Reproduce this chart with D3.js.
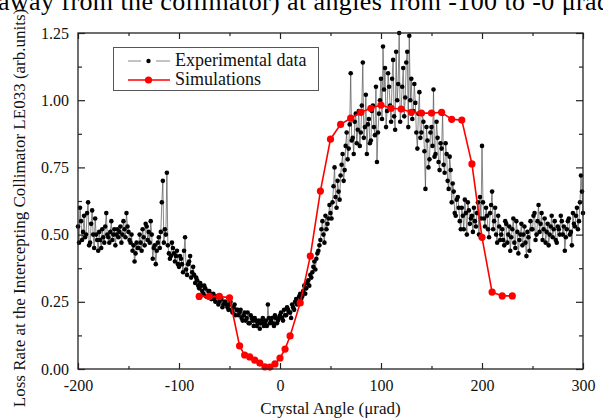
<!DOCTYPE html>
<html><head><meta charset="utf-8">
<script src="https://cdn.jsdelivr.net/npm/d3@7"></script>
<style>
html,body{margin:0;padding:0;background:#fff;overflow:hidden}
svg{display:block;font-family:"Liberation Serif","Times New Roman",serif}
svg text{font-family:"Liberation Serif","Times New Roman",serif}
</style></head><body>
<svg id="c" width="603" height="420"></svg>
<script>
// ---- data ----
const expAngle = [
-200,-198,-196,-194,-192,-190,-188,-186,-184,-182,
-180,-178,-176,-174,-172,-170,-168,-166,-164,-162,
-160,-158,-156,-154,-152,-150,-148,-146,-144,-142,
-140,-138,-136,-134,-132,-130,-128,-126,-124,-122,
-120,-118,-116,-114,-112,-110,-108,-106,-104,-102,
-100,-98,-96,-94,-92,-90,-88,-86,-84,-82,
-80,-78,-76,-74,-72,-70,-68,-66,-64,-62,
-60,-58,-56,-54,-52,-50,-48,-46,-44,-42,
-40,-38,-36,-34,-32,-30,-28,-26,-24,-22,
-20,-18,-16,-14,-12,-10,-8,-6,-4,-2,
0,2,4,6,8,10,12,14,16,18,
20,22,24,26,28,30,32,34,36,38,
40,42,44,46,48,50,52,54,56,58,
60,62,64,66,68,70,72,74,76,78,
80,82,84,86,88,90,92,94,96,98,
100,102,104,106,108,110,112,114,116,118,
120,122,124,126,128,130,132,134,136,138,
140,142,144,146,148,150,152,154,156,158,
160,162,164,166,168,170,172,174,176,178,
180,182,184,186,188,190,192,194,196,198,
200,202,204,206,208,210,212,214,216,218,
220,222,224,226,228,230,232,234,236,238,
240,242,244,246,248,250,252,254,256,258,
260,262,264,266,268,270,272,274,276,278,
280,282,284,286,288,290,292,294,296,298,
300];
const expLoss = [
0.53,0.60,0.48,0.57,0.50,0.62,0.47,0.59,0.45,0.50,
0.44,0.48,0.52,0.47,0.58,0.49,0.51,0.48,0.52,0.50,
0.49,0.53,0.50,0.52,0.58,0.51,0.47,0.44,0.40,0.47,
0.45,0.47,0.52,0.46,0.53,0.51,0.55,0.41,0.46,0.44,
0.49,0.51,0.70,0.52,0.73,0.43,0.42,0.45,0.40,0.44,
0.38,0.41,0.36,0.49,0.35,0.40,0.34,0.38,0.32,0.33,
0.30,0.31,0.28,0.30,0.27,0.29,0.26,0.28,0.25,0.27,
0.25,0.26,0.24,0.25,0.23,0.24,0.22,0.23,0.20,0.22,
0.21,0.19,0.20,0.18,0.21,0.17,0.19,0.16,0.18,0.17,
0.15,0.18,0.16,0.18,0.24,0.17,0.19,0.16,0.19,0.18,
0.20,0.19,0.22,0.20,0.22,0.21,0.24,0.22,0.26,0.25,
0.28,0.27,0.31,0.30,0.33,0.35,0.36,0.40,0.41,0.44,
0.48,0.55,0.47,0.52,0.56,0.58,0.62,0.75,0.60,0.66,
0.72,0.80,0.74,0.88,0.82,1.10,0.86,0.92,0.84,0.96,
0.88,1.14,0.90,0.80,0.93,0.85,0.98,0.87,0.77,0.95,
1.08,1.20,1.12,0.96,1.05,0.92,1.15,0.89,1.00,1.25,
0.97,1.12,1.01,1.18,1.24,1.08,0.96,0.99,0.82,1.03,
0.88,0.92,0.67,0.85,0.78,0.90,1.04,0.80,0.86,0.74,
0.82,0.76,0.84,0.70,0.79,0.62,0.66,0.57,0.64,0.55,
0.60,0.52,0.58,0.62,0.54,0.57,0.60,0.53,0.62,0.64,
0.83,0.56,0.60,0.52,0.58,0.66,0.55,0.50,0.57,0.48,
0.52,0.46,0.54,0.50,0.44,0.52,0.47,0.55,0.43,0.50,
0.46,0.53,0.42,0.49,0.55,0.52,0.58,0.50,0.61,0.54,
0.48,0.56,0.51,0.46,0.53,0.49,0.55,0.47,0.52,0.57,
0.50,0.44,0.52,0.56,0.51,0.58,0.53,0.60,0.55,0.72,
0.58];
// interleaved scan (odd angles)
const expAngle2 = [
-199,-197,-195,-193,-191,-189,-187,-185,-183,-181,
-179,-177,-175,-173,-171,-169,-167,-165,-163,-161,
-159,-157,-155,-153,-151,-149,-147,-145,-143,-141,
-139,-137,-135,-133,-131,-129,-127,-125,-123,-121,
-119,-117,-115,-113,-111,-109,-107,-105,-103,-101,
-99,-97,-95,-93,-91,-89,-87,-85,-83,-81,
-79,-77,-75,-73,-71,-69,-67,-65,-63,-61,
-59,-57,-55,-53,-51,-49,-47,-45,-43,-41,
-39,-37,-35,-33,-31,-29,-27,-25,-23,-21,
-19,-17,-15,-13,-11,-9,-7,-5,-3,-1,
1,3,5,7,9,11,13,15,17,19,
21,23,25,27,29,31,33,35,37,39,
41,43,45,47,49,51,53,55,57,59,
61,63,65,67,69,71,73,75,77,79,
81,83,85,87,89,91,93,95,97,99,
101,103,105,107,109,111,113,115,117,119,
121,123,125,127,129,131,133,135,137,139,
141,143,145,147,149,151,153,155,157,159,
161,163,165,167,169,171,173,175,177,179,
181,183,185,187,189,191,193,195,197,199,
201,203,205,207,209,211,213,215,217,219,
221,223,225,227,229,231,233,235,237,239,
241,243,245,247,249,251,253,255,257,259,
261,263,265,267,269,271,273,275,277,279,
281,283,285,287,289,291,293,295,297,299];
const expLoss2 = [
0.47,0.55,0.51,0.49,0.58,0.46,0.54,0.50,0.56,0.48,
0.51,0.45,0.49,0.53,0.50,0.47,0.55,0.50,0.46,0.52,
0.51,0.47,0.55,0.49,0.53,0.48,0.50,0.46,0.43,0.45,
0.50,0.44,0.49,0.54,0.48,0.47,0.50,0.45,0.39,0.47,
0.45,0.62,0.47,0.50,0.46,0.41,0.47,0.43,0.42,0.39,
0.42,0.39,0.44,0.37,0.39,0.42,0.36,0.35,0.34,0.31,
0.32,0.29,0.31,0.27,0.29,0.28,0.27,0.26,0.27,0.24,
0.26,0.23,0.25,0.24,0.22,0.25,0.21,0.24,0.22,0.20,
0.22,0.18,0.21,0.19,0.17,0.20,0.18,0.19,0.16,0.18,
0.17,0.19,0.17,0.16,0.19,0.18,0.17,0.20,0.17,0.19,
0.21,0.18,0.20,0.23,0.21,0.19,0.23,0.25,0.24,0.27,
0.26,0.29,0.28,0.32,0.31,0.34,0.38,0.37,0.43,0.46,
0.52,0.50,0.57,0.54,0.61,0.56,0.68,0.64,0.70,0.63,
0.76,0.70,0.83,0.78,0.91,0.85,0.80,0.95,0.89,0.83,
0.98,0.86,1.02,0.91,0.84,0.96,0.90,1.05,0.88,1.00,
0.93,1.04,0.90,1.10,0.98,1.08,0.94,1.18,1.06,0.92,
1.05,0.94,1.14,0.90,1.00,0.93,1.06,0.88,0.95,0.86,
0.95,0.81,0.90,0.75,0.88,0.83,0.79,0.92,0.77,0.84,
0.95,0.73,0.80,0.67,0.74,0.69,0.58,0.63,0.60,0.52,
0.57,0.63,0.50,0.59,0.56,0.51,0.55,0.58,0.50,0.56,
0.62,0.53,0.57,0.49,0.61,0.52,0.60,0.47,0.53,0.50,
0.48,0.55,0.47,0.53,0.49,0.56,0.45,0.51,0.48,0.54,
0.50,0.47,0.51,0.44,0.52,0.57,0.48,0.55,0.51,0.58,
0.52,0.47,0.54,0.50,0.57,0.52,0.48,0.53,0.50,0.55,
0.53,0.49,0.55,0.50,0.46,0.54,0.57,0.52,0.62,0.66];
const simAngle = [-80,-70,-60,-50,-40,-35,-30,-25,-20,-15,-10,-5,0,5,10,20,30,40,50,60,70,80,90,100,110,120,130,140,150,160,170,180,190,200,210,220,230];
const simLoss  = [0.27,0.27,0.27,0.265,0.086,0.052,0.045,0.033,0.022,0.008,0.007,0.019,0.041,0.074,0.123,0.246,0.42,0.662,0.855,0.91,0.933,0.955,0.97,0.982,0.97,0.967,0.955,0.952,0.952,0.955,0.929,0.926,0.763,0.49,0.286,0.272,0.272];
const xTicks = [-200,-100,0,100,200,300];
const yTicks = [0,0.25,0.5,0.75,1.0,1.25];
const legendLabels = ["Experimental data","Simulations"];
const xTitle = "Crystal Angle (μrad)";
const yTitle = "Loss Rate at the Intercepting Collimator LE033 (arb.units)";
const topText = "away from the collimator) at angles from -100 to -0 μrad";

// ---- chart ----
const svg = d3.select("#c");
const L=78,R=583,T=33,B=369;
const x = d3.scaleLinear().domain([-200,300]).range([L,R]);
const y = d3.scaleLinear().domain([0,1.25]).range([B,T]);
const SERIF = "Liberation Serif";

svg.append("text").attr("x",-2).attr("y",10).attr("font-size",26).attr("font-family",SERIF)
  .attr("textLength",612).attr("lengthAdjust","spacing").attr("fill","#000").text(topText);

function axes(){
  const g = svg.append("g");
  const xMinor = [-150,-50,50,150,250];
  const yMinor = [0.125,0.375,0.625,0.875,1.125];
  const fx = d => String(d);
  const gb = g.append("g").attr("transform",`translate(0,${B})`).call(d3.axisBottom(x).tickValues(xTicks).tickSize(-6).tickPadding(10).tickFormat(fx));
  gb.select(".domain").remove();
  const gt = g.append("g").attr("transform",`translate(0,${T})`).call(d3.axisTop(x).tickValues(xTicks).tickSize(-6).tickFormat(""));
  gt.select(".domain").remove();
  const gl = g.append("g").attr("transform",`translate(${L},0)`).call(d3.axisLeft(y).tickValues(yTicks).tickSize(-7).tickPadding(9).tickFormat(d3.format(".2f")));
  gl.select(".domain").remove();
  const gr = g.append("g").attr("transform",`translate(${R},0)`).call(d3.axisRight(y).tickValues(yTicks).tickSize(-7).tickFormat(""));
  gr.select(".domain").remove();
  [[d3.axisBottom(x).tickValues(xMinor).tickSize(-3),`translate(0,${B})`],
   [d3.axisTop(x).tickValues(xMinor).tickSize(-3),`translate(0,${T})`],
   [d3.axisLeft(y).tickValues(yMinor).tickSize(-4),`translate(${L},0)`],
   [d3.axisRight(y).tickValues(yMinor).tickSize(-4),`translate(${R},0)`]].forEach(([a,t])=>{
     g.append("g").attr("transform",t).call(a.tickFormat("")).select(".domain").remove();
   });
  g.selectAll("g").attr("font-family",SERIF).attr("font-size",16);
  g.selectAll(".tick line").attr("stroke","#222").attr("stroke-width",1.2);
  g.selectAll(".tick text").attr("fill","#111").attr("font-family",SERIF).attr("font-size",16);
  gb.selectAll(".tick text").attr("y",11);
}

// experimental
const expData = expAngle.map((a,i)=>[a,expLoss[i]])
  .concat(expAngle2.map((a,i)=>[a,expLoss2[i]]))
  .sort((a,b)=>a[0]-b[0]);
const line = d3.line().x(d=>x(d[0])).y(d=>y(d[1]));
svg.append("path").datum(expData).attr("d",line).attr("fill","none").attr("stroke","#555").attr("stroke-width",0.7);
svg.append("g").selectAll("circle").data(expData).join("circle")
  .attr("cx",d=>x(d[0])).attr("cy",d=>y(d[1])).attr("r",2.3).attr("fill","#000");

// simulations
const simData = simAngle.map((a,i)=>[a,simLoss[i]]);
svg.append("path").datum(simData).attr("d",line).attr("fill","none").attr("stroke","#ff0000").attr("stroke-width",1.6);
svg.append("g").selectAll("circle").data(simData).join("circle")
  .attr("cx",d=>x(d[0])).attr("cy",d=>y(d[1])).attr("r",3.6).attr("fill","#ff0000");

// frame
svg.append("rect").attr("x",L).attr("y",T).attr("width",R-L).attr("height",B-T)
  .attr("fill","none").attr("stroke","#222").attr("stroke-width",1.3);
axes();

// legend
const lg = svg.append("g");
lg.append("rect").attr("x",113.5).attr("y",47.5).attr("width",205).attr("height",43).attr("fill","#fff").attr("stroke","#555").attr("stroke-width",1);
const items = [{lab:legendLabels[0],stroke:"#888",fill:"#000",r:2.2,w:1,y:61,gap:true},{lab:legendLabels[1],stroke:"#ff0000",fill:"#ff0000",r:3.6,w:1.6,y:80,gap:false}];
items.forEach(it=>{
  if(it.gap){
    lg.append("line").attr("x1",128).attr("x2",141).attr("y1",it.y).attr("y2",it.y).attr("stroke",it.stroke).attr("stroke-width",it.w);
    lg.append("line").attr("x1",156).attr("x2",170).attr("y1",it.y).attr("y2",it.y).attr("stroke",it.stroke).attr("stroke-width",it.w);
  } else {
    lg.append("line").attr("x1",128).attr("x2",170).attr("y1",it.y).attr("y2",it.y).attr("stroke",it.stroke).attr("stroke-width",it.w);
  }
  lg.append("circle").attr("cx",148.5).attr("cy",it.y).attr("r",it.r).attr("fill",it.fill);
  lg.append("text").attr("x",175).attr("y",it.y+5).attr("font-size",18).attr("font-family",SERIF).attr("fill","#111").text(it.lab);
});

// titles
svg.append("text").attr("x",(L+R)/2).attr("y",414).attr("text-anchor","middle").attr("font-size",17).attr("font-family",SERIF).attr("fill","#111").text(xTitle);
svg.append("text").attr("transform","translate(25,208) rotate(-90)").attr("text-anchor","middle").attr("font-size",17).attr("font-family",SERIF).attr("fill","#111").text(yTitle);
</script>
</body></html>
